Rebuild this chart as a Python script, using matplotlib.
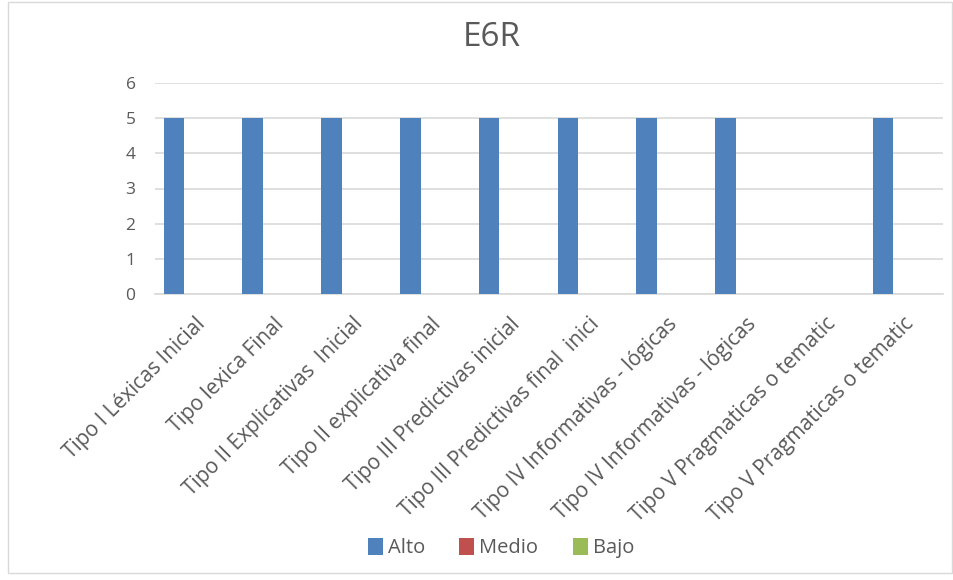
import matplotlib.pyplot as plt
import numpy as np
from matplotlib.patches import Rectangle

categories = [
    "Tipo I Léxicas Inicial",
    "Tipo lexica Final",
    "Tipo II Explicativas  Inicial",
    "Tipo II explicativa final",
    "Tipo III Predictivas inicial",
    "Tipo III Predictivas final  inici",
    "Tipo IV Informativas - lógicas",
    "Tipo IV Informativas - lógicas",
    "Tipo V Pragmaticas o tematic",
    "Tipo V Pragmaticas o tematic",
]
alto = [5, 5, 5, 5, 5, 5, 5, 5, 0, 5]
medio = [0, 0, 0, 0, 0, 0, 0, 0, 0, 0]
bajo = [0, 0, 0, 0, 0, 0, 0, 0, 0, 0]
series_names = ["Alto", "Medio", "Bajo"]
colors = ["#4F81BD", "#C0504D", "#9BBB59"]
yticks = [0, 1, 2, 3, 4, 5, 6]

plt.rcParams['font.family'] = ['Open Sans', 'DejaVu Sans']
text_color = "#595959"

fig = plt.figure(figsize=(9.54, 5.8), dpi=100)
ax = fig.add_axes([0.1625, 0.493, 0.826, 0.364])

x = np.arange(len(categories))
w = 0.26
for i, (vals, name, c) in enumerate(zip([alto, medio, bajo], series_names, colors)):
    ax.bar(x + (i - 1) * w, vals, width=w, color=c, label=name, zorder=3)

ax.set_xlim(-0.5, len(categories) - 0.5)
ax.set_ylim(0, 6)
ax.set_yticks(yticks)
ax.set_yticklabels([str(v) for v in yticks], fontsize=12.5, color=text_color)
ax.yaxis.grid(True, color="#D9D9D9", linewidth=1.2, zorder=0)
ax.tick_params(axis='both', length=0)
ax.tick_params(axis='y', pad=14)
for s in ["top", "right", "left"]:
    ax.spines[s].set_visible(False)
ax.spines["bottom"].set_color("#D9D9D9")
ax.spines["bottom"].set_linewidth(1.2)

ax.set_xticks(x)
ax.set_xticklabels(categories, rotation=45, ha='right', va='top',
                   rotation_mode='anchor', fontsize=15, color=text_color)
ax.tick_params(axis='x', pad=14)

fig.text(0.515, 0.935, "E6R", ha='center', va='center', fontsize=24, color=text_color)

leg = fig.legend(loc='center', bbox_to_anchor=(0.525, 0.055), ncol=3, frameon=False,
                 fontsize=14.5, handlelength=0.75, handleheight=0.9, handletextpad=0.25,
                 columnspacing=1.7, labelcolor=text_color)

fig.patches.append(Rectangle((0.008, 0.012), 0.99, 0.985, transform=fig.transFigure,
                             fill=False, edgecolor="#D9D9D9", linewidth=1))

fig.savefig("out.png", dpi=100, facecolor="white")
